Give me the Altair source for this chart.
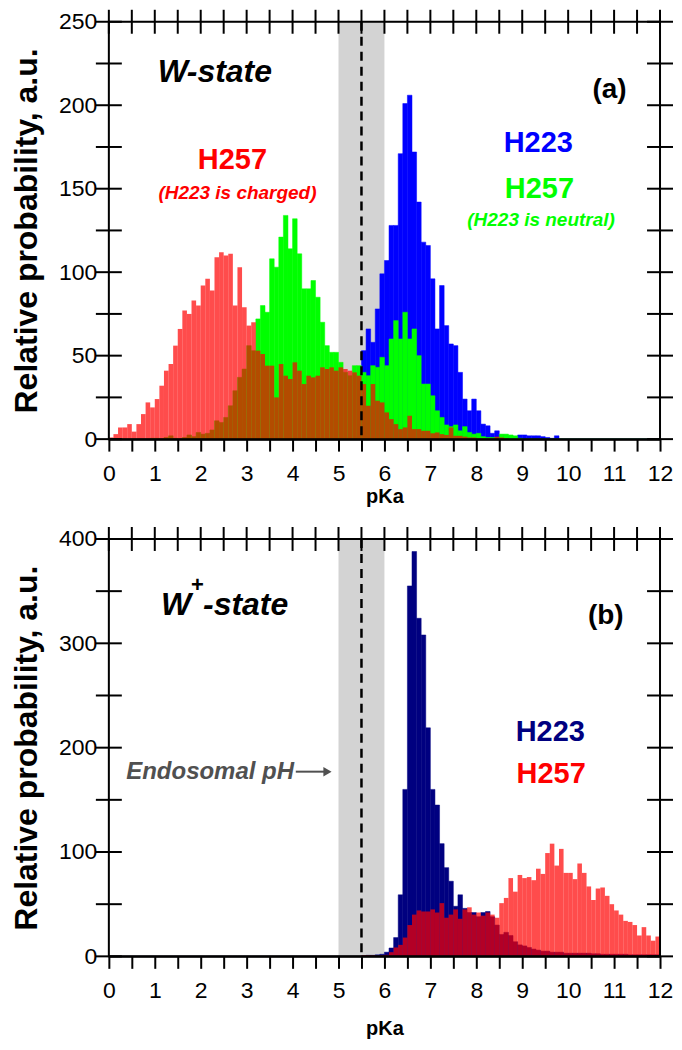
import altair as alt
import pandas as pd

FONT = "Liberation Sans"

# ---------------- data ----------------
BIN_START = [round(i * 0.1, 1) for i in range(120)]
BIN_END = [round(b + 0.1, 1) for b in BIN_START]

# Panel (a): W-state
A_H223 = [0] * 53 + [
    0.5, 1, 53, 66, 58, 78, 99, 107, 128, 128,
    171, 201, 206, 172, 142, 118, 116, 96, 66, 92,
    68, 57, 56, 40, 24, 17, 24, 17, 9, 8,
    3.5, 5, 2.5, 1.5, 2, 1.5, 2.5, 2.5, 2, 2,
    2, 1.5, 1, 0.5, 2] + [0] * 22

A_H257_NEUTRAL = [0] * 9 + [
    0.5, 0.5, 0, 1, 2, 0.5, 0, 1, 2.5, 1.5,
    4, 3, 3.5, 5.5, 11, 10, 13, 20, 29, 37,
    42, 56, 53, 72, 80, 76, 108, 103, 121, 134,
    114, 132, 111, 90, 90, 95, 85, 70, 56, 52,
    52, 46, 40, 38, 44, 44, 40, 38, 44, 43,
    49, 44, 60, 71, 60, 76, 60, 66, 50, 33,
    33, 26, 17, 13, 8.5, 7.5, 8.5, 5, 7.5, 4,
    3, 3.5, 1.5, 1, 1, 1, 3, 3, 2.5, 2,
    0.5] + [0] * 30

A_H257_CHARGED = [
    1, 3, 7, 7, 9, 4.5, 9, 15, 22, 19,
    24, 32, 41, 45, 56, 66, 77, 75, 83, 80,
    92, 96, 89, 109, 112, 110, 111, 80, 103, 79,
    68, 70, 53, 51, 44, 44, 25, 45, 38, 36,
    46, 41, 33, 38, 37, 38, 43, 42, 43, 41,
    43, 42, 41, 40, 38, 33, 20, 33, 23, 22,
    16, 12, 9, 6, 7, 14, 6, 6, 5, 5,
    3.5, 4, 3, 2.5, 7, 2, 2, 1.5, 1, 1,
    0.5, 0.5, 0.5, 0.5, 1.5, 1, 0.5] + [0] * 33

# Panel (b): W+-state
B_H223 = [0] * 55 + [
    0.5, 1, 1, 1.5, 2, 4, 8, 18, 59, 160,
    355, 388, 324, 308, 219, 160, 145, 108, 85, 72,
    48, 59, 46, 42, 42, 38, 42, 43, 38, 30,
    21, 23, 20, 14, 11, 10, 8.5, 7, 6, 5,
    5, 4, 4, 4, 3, 3, 3, 3, 3, 3,
    2.5, 2.5, 2, 2, 2, 2, 2, 2, 1.5, 1.5,
    1.5, 1.5, 1.5, 1.5, 1.5]

B_H257 = [0] * 55 + [
    1, 1, 1, 0.5, 1, 1.5, 4, 8.5, 11, 18,
    30, 40, 44, 43, 43, 45, 42, 51, 37, 40,
    45, 36, 45, 47, 40, 42, 39, 42, 40, 37,
    51, 56, 75, 62, 78, 75, 76, 73, 84, 79,
    99, 108, 87, 103, 80, 80, 74, 89, 80, 67,
    54, 65, 66, 58, 50, 44, 40, 34, 33, 30,
    20, 28, 20, 15, 19]

X_TICKS = [i * 0.5 for i in range(25)]
A_Y_TICKS = [0, 25, 50, 75, 100, 125, 150, 175, 200, 225, 250]
A_Y_LABELS = [0, 50, 100, 150, 200, 250]
B_Y_TICKS = [0, 50, 100, 150, 200, 250, 300, 350, 400]
B_Y_LABELS = [0, 100, 200, 300, 400]

ENDOSOMAL_BAND = [5.0, 6.0]
ENDOSOMAL_PH = 5.5

W, H = 552, 418


def hist_df(values):
    return pd.DataFrame({"x": BIN_START, "x2": BIN_END, "y": values})


def panel(series, ymax, y_ticks, y_labels, texts, x_title_pad, extra_layers_fn=None):
    xs = alt.Scale(domain=[0, 12], nice=False, zero=False)
    ys = alt.Scale(domain=[0, ymax], nice=False, zero=True)

    x_axis = alt.Axis(
        values=X_TICKS, format=".0f",
        labelExpr="datum.value % 1 === 0 ? datum.label : ''",
        tickSize=12, tickWidth=2, tickColor="black",
        domain=True, domainColor="black", domainWidth=2, zindex=1, grid=False,
        labelFontSize=23, labelPadding=11, labelFlush=False, labelOverlap=False,
        labelFont=FONT, labelColor="black",
        title="pKa", titleFont=FONT, titleFontSize=20, titleFontWeight="bold",
        titleColor="black", titlePadding=x_title_pad,
    )
    y_axis = alt.Axis(
        values=y_labels, format="d", tickSize=0, domain=False, grid=False,
        labelFontSize=23, labelPadding=12, labelFont=FONT, labelColor="black",
        labelFlush=False,
        title="Relative probability, a.u.", titleFont=FONT, titleFontSize=32,
        titleFontWeight="bold", titleColor="black", titlePadding=15,
    )

    def X(field="x"):
        return alt.X(f"{field}:Q", scale=xs, axis=x_axis)

    def Y(field="y"):
        return alt.Y(f"{field}:Q", scale=ys, axis=y_axis)

    layers = []
    band = alt.Chart(pd.DataFrame({"x": [ENDOSOMAL_BAND[0]], "x2": [ENDOSOMAL_BAND[1]]})).mark_rect(
        color="#d3d3d3").encode(
        x=X(), x2="x2:Q", y=alt.value(0), y2=alt.value(H))
    layers.append(band)

    for values, color, opacity in series:
        ch = alt.Chart(hist_df(values)).mark_bar(
            color=color, opacity=opacity,
            stroke=color if opacity == 1 else None,
            strokeWidth=0.5 if opacity == 1 else 0,
        ).encode(
            x=X(), x2="x2:Q",
            y=Y(), y2=alt.datum(0),
        )
        layers.append(ch)

    dash = alt.Chart(pd.DataFrame({"x": [ENDOSOMAL_PH]})).mark_rule(
        color="black", strokeWidth=2.5, strokeDash=[9, 6]).encode(
        x=X(), y=alt.value(0), y2=alt.value(H))
    layers.append(dash)

    # inward ticks: top, left, right (drawn as tick marks)
    top_ticks = alt.Chart(pd.DataFrame({"tx": X_TICKS})).mark_tick(
        color="black", thickness=2, size=24, orient="vertical", opacity=1).encode(
        x=X("tx"), y=alt.value(0))
    left_ticks = alt.Chart(pd.DataFrame({"ty": y_ticks})).mark_tick(
        color="black", thickness=2, size=26, orient="horizontal", opacity=1).encode(
        y=Y("ty"), x=alt.value(0))
    right_ticks = alt.Chart(pd.DataFrame({"ty": y_ticks})).mark_tick(
        color="black", thickness=2, size=26, orient="horizontal", opacity=1).encode(
        y=Y("ty"), x=alt.value(W))
    layers += [top_ticks, left_ticks, right_ticks]

    for t in texts:
        txt, x, y, color, size, italic, align = t
        layers.append(
            alt.Chart(pd.DataFrame({"x": [x], "y": [y], "t": [txt]})).mark_text(
                font=FONT, fontSize=size, fontWeight="bold",
                fontStyle="italic" if italic else "normal",
                color=color, align=align, baseline="middle").encode(
                x=X(), y=Y(), text="t:N"))

    if extra_layers_fn is not None:
        layers += extra_layers_fn(X, Y)

    frame = alt.Chart(pd.DataFrame({"fx": [0], "fx2": [12], "fy": [0], "fy2": [ymax]})).mark_rect(
        fillOpacity=0, stroke="black", strokeWidth=2, strokeOpacity=1).encode(
        x=X("fx"), x2="fx2:Q", y=Y("fy"), y2="fy2:Q")
    layers.append(frame)

    return alt.layer(*layers).properties(width=W, height=H)


texts_a = [
    ("W-state", 2.31, 220, "black", 32, True, "center"),
    ("(a)", 10.9, 209, "black", 28, False, "center"),
    ("H223", 9.35, 177.5, "#0000ff", 29, False, "center"),
    ("H257", 9.375, 150, "#00ff00", 29, False, "center"),
    ("(H223 is neutral)", 9.41, 131, "#00ff00", 19, True, "center"),
    ("H257", 2.69, 167, "#ff0000", 29, False, "center"),
    ("(H223 is charged)", 2.8, 147.5, "#ff0000", 19, True, "center"),
]

texts_b = [
    ("W", 1.79, 337, "black", 32, True, "right"),
    ("+", 1.93, 356, "black", 22, False, "center"),
    ("-state", 2.05, 337, "black", 32, True, "left"),
    ("(b)", 10.82, 325.7, "black", 28, False, "center"),
    ("H223", 9.61, 214.6, "#000080", 29, False, "center"),
    ("H257", 9.63, 174.8, "#ff0000", 29, False, "center"),
    ("Endosomal pH", 4.03, 177, "#505050", 24, True, "right"),
]


def arrow_layers(X, Y):
    line = alt.Chart(pd.DataFrame({"ax": [4.07], "ax2": [4.74], "ay": [177]})).mark_rule(
        color="#505050", strokeWidth=2).encode(
        x=X("ax"), x2="ax2:Q", y=Y("ay"))
    head = alt.Chart(pd.DataFrame({"hx": [4.76], "hy": [177]})).mark_point(
        shape="triangle-right", filled=True, color="#505050", size=90, opacity=1).encode(
        x=X("hx"), y=Y("hy"))
    return [line, head]


panel_a = panel(
    [(A_H223, "#0000ff", 1), (A_H257_NEUTRAL, "#00ff00", 1), (A_H257_CHARGED, "#ff0000", 0.7)],
    250, A_Y_TICKS, A_Y_LABELS, texts_a, 1)

panel_b = panel(
    [(B_H223, "#000080", 1), (B_H257, "#ff0000", 0.7)],
    400, B_Y_TICKS, B_Y_LABELS, texts_b, 16, arrow_layers)

chart = alt.vconcat(panel_a, panel_b, spacing=100, bounds="flush").properties(
    padding={"left": 2, "top": 0, "right": 0, "bottom": 2}
).configure_view(stroke="black", strokeWidth=2).configure(background="white")

chart.save("out.html", embed_options={"renderer": "svg", "actions": False})
